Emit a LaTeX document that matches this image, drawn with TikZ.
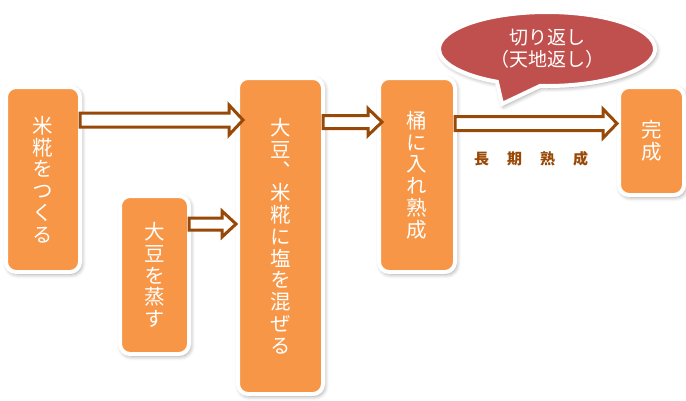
\documentclass[tikz,border=0pt]{standalone}
\usepackage{fontspec}
\newfontfamily\jpfont{Noto Sans CJK JP}
\newfontfamily\tatefont[RawFeature=+vert]{Noto Sans CJK JP}
\usetikzlibrary{calc, shapes.callouts, shadows.blur}
\definecolor{boxorange}{HTML}{F79646}
\definecolor{calloutred}{HTML}{C0504D}
\definecolor{arrowbrown}{HTML}{984807}

% hollow block arrow: from, to, y, shaft half, head half, tip shift
\newcommand{\hollowarrow}[6]{%
  \draw[hollow] let \p1=(#1), \p2=(#2), \p3=(0,#3) in
    (\x1-2pt,\y3+#4) -- (\x2+#6-14pt,\y3+#4) -- (\x2+#6-14pt,\y3+#5) -- (\x2+#6,\y3)
    -- (\x2+#6-14pt,\y3-#5) -- (\x2+#6-14pt,\y3-#4) -- (\x1-2pt,\y3-#4) -- cycle;}

\begin{document}
\begin{tikzpicture}[x=1pt, y=-1pt]
      \tikzset{box/.style = {draw=white, line width=4pt, fill=boxorange, rounded corners=10pt,
        text=white, font=\tatefont\fontsize{20.5}{21.8}\selectfont, align=center, inner sep=0pt,
        blur shadow={shadow blur steps=6, shadow xshift=1.5pt, shadow yshift=-2pt,
          shadow blur radius=4.5pt, shadow opacity=40}}}
      \tikzset{callout/.style = {ellipse callout, draw=white, line width=4pt, fill=calloutred,
        text=white, font=\jpfont\fontsize{19}{22}\selectfont, align=center, inner sep=0pt,
        blur shadow={shadow blur steps=6, shadow xshift=1.5pt, shadow yshift=-2pt,
          shadow blur radius=4.5pt, shadow opacity=40}}}
      \tikzset{hollow/.style = {draw=arrowbrown, line width=3pt, fill=white, line join=miter}}
      \useasboundingbox (0,0) rectangle (686,400);

      \node[box, minimum width=74pt, minimum height=185pt] (1) at (43,179.5) {米\\糀\\を\\つ\\く\\る};
      \node[box, minimum width=69pt, minimum height=158pt] (2) at (154.5,275) {大\\豆\\を\\蒸\\す};
      \node[box, minimum width=85pt, minimum height=316pt] (3) at (280.5,236) {大\\豆\\、\\米\\糀\\に\\塩\\を\\混\\ぜ\\る};
      \node[box, minimum width=76pt, minimum height=194pt] (4) at (417,175) {桶\\に\\入\\れ\\熟\\成};
      \node[box, minimum width=65pt, minimum height=108pt] (5) at (651.5,141) {完\\成};

      \node[callout, minimum width=216pt, minimum height=74pt, callout absolute pointer={(502,104)},
        callout pointer arc=24] (6) at (547,49) {切り返し\\（天地返し）};

      \hollowarrow{1.east}{3.west}{120}{7pt}{15pt}{7pt}
      \hollowarrow{2.east}{3.west}{224}{6pt}{13pt}{0pt}
      \hollowarrow{3.east}{4.west}{122}{6.5pt}{13.5pt}{5pt}
      \hollowarrow{4.east}{5.west}{123.5}{7pt}{14.5pt}{0pt}

      \node[font=\jpfont\bfseries\fontsize{15}{15}\selectfont, text=arrowbrown] (7) at (531,159)
        {長\hspace{18pt}期\hspace{18pt}熟\hspace{18pt}成};
    \end{tikzpicture}
\end{document}
